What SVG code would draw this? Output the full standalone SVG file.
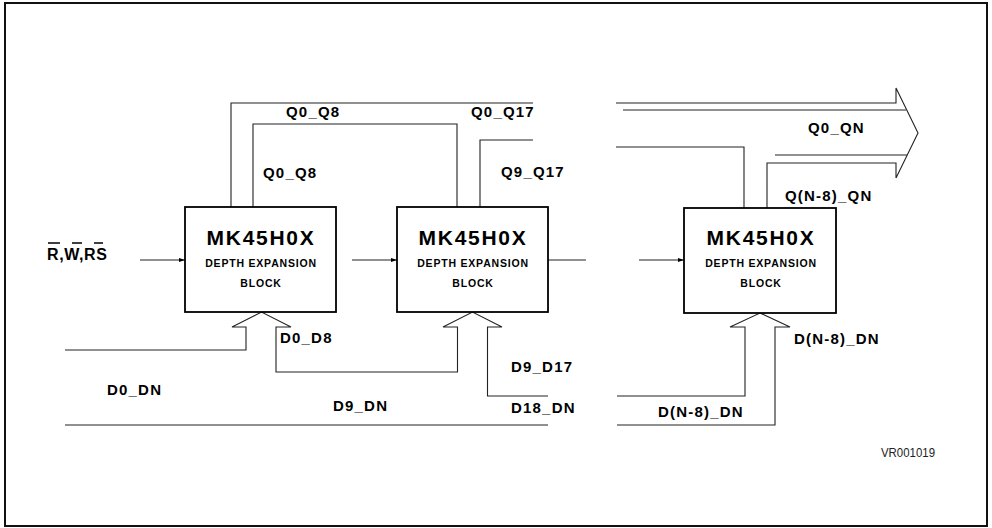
<svg xmlns="http://www.w3.org/2000/svg" width="992" height="528" viewBox="0 0 992 528">
<defs>
<style>
.frame{fill:none;stroke:#111;stroke-width:2}
.blk{fill:#fff;stroke:#000;stroke-width:1.8}
.w{fill:none;stroke:#222;stroke-width:1.1}
.t1{font-family:"Liberation Sans",Arial,sans-serif;font-weight:bold;font-size:21px;letter-spacing:1.7px;text-anchor:middle;fill:#000}
.t2{font-family:"Liberation Sans",Arial,sans-serif;font-weight:bold;font-size:10.5px;letter-spacing:0.8px;text-anchor:middle;fill:#000}
.lb{font-family:"Liberation Sans",Arial,sans-serif;font-weight:bold;font-size:15px;letter-spacing:1.2px;fill:#000}
.id{font-family:"Liberation Sans",Arial,sans-serif;font-size:13px;fill:#222}
</style>
<marker id="ah" viewBox="0 0 6 6" refX="6" refY="3" markerWidth="6" markerHeight="6" markerUnits="userSpaceOnUse" orient="auto">
<path d="M0,1 L6,3 L0,5 Z" fill="#000"/>
</marker>
</defs>
<rect width="992" height="528" fill="#fff"/>
<rect class="frame" x="5" y="3" width="982" height="523"/>

<g id="connectors">
<polyline class="w" points="231,207 231,103 533,103"/>
<polyline class="w" points="253,207 253,124 457,124 457,207"/>
<polyline class="w" points="480,207 480,140 533,140"/>
<polyline class="w" points="616,103 896,103 896,88 918,133 896,178 896,163 767,163 767,208"/>
<polyline class="w" points="623,110 906,110"/>
<polyline class="w" points="775,155 907,155"/>
<polyline class="w" points="616,147 744,147 744,208"/>
<line class="w" x1="140" y1="260" x2="185" y2="260" marker-end="url(#ah)"/>
<line class="w" x1="352" y1="260" x2="397" y2="260" marker-end="url(#ah)"/>
<line class="w" x1="548" y1="260" x2="586" y2="260"/>
<line class="w" x1="639" y1="260" x2="684" y2="260" marker-end="url(#ah)"/>
<polyline class="w" points="65,350 246,350 246,327 232,327 261.5,312 291,327 276,327 276,372 457.5,372 457.5,327 443,327 472.5,312 502,327 487.5,327 487.5,396 548,396"/>
<polyline class="w" points="617,396 745,396 745,327 730,327 760,313 790,327 775,327 775,425 617,425"/>
<line class="w" x1="65" y1="425" x2="548" y2="425"/>
</g>

<g id="block1">
<rect class="blk" x="185" y="207" width="151" height="105"/>
<text class="t1" x="261" y="245">MK45H0X</text>
<text class="t2" x="261" y="267">DEPTH EXPANSION</text>
<text class="t2" x="261" y="287">BLOCK</text>
</g>
<g id="block2">
<rect class="blk" x="397" y="207" width="151" height="105"/>
<text class="t1" x="473" y="245">MK45H0X</text>
<text class="t2" x="473" y="267">DEPTH EXPANSION</text>
<text class="t2" x="473" y="287">BLOCK</text>
</g>
<g id="block3">
<rect class="blk" x="684" y="208" width="152" height="105"/>
<text class="t1" x="761" y="245">MK45H0X</text>
<text class="t2" x="761" y="267">DEPTH EXPANSION</text>
<text class="t2" x="761" y="287">BLOCK</text>
</g>

<g id="labels">
<text class="lb" x="47" y="260" style="font-size:16px;letter-spacing:0.6px">R,W,RS</text>
<g stroke="#000" stroke-width="1.5">
<line x1="48" y1="243" x2="60" y2="243"/>
<line x1="72" y1="243" x2="82" y2="243"/>
<line x1="94" y1="243" x2="103" y2="243"/>
</g>
<text class="lb" x="286" y="117">Q0_Q8</text>
<text class="lb" x="263" y="178">Q0_Q8</text>
<text class="lb" x="471" y="117">Q0_Q17</text>
<text class="lb" x="501" y="177">Q9_Q17</text>
<text class="lb" x="808" y="133">Q0_QN</text>
<text class="lb" x="785" y="201">Q(N-8)_QN</text>
<text class="lb" x="280" y="343">D0_D8</text>
<text class="lb" x="107" y="395">D0_DN</text>
<text class="lb" x="333" y="411">D9_DN</text>
<text class="lb" x="511" y="372">D9_D17</text>
<text class="lb" x="511" y="413">D18_DN</text>
<text class="lb" x="794" y="344">D(N-8)_DN</text>
<text class="lb" x="658" y="417">D(N-8)_DN</text>
<text class="id" x="881" y="457" textLength="54" lengthAdjust="spacingAndGlyphs">VR001019</text>
</g>
</svg>
